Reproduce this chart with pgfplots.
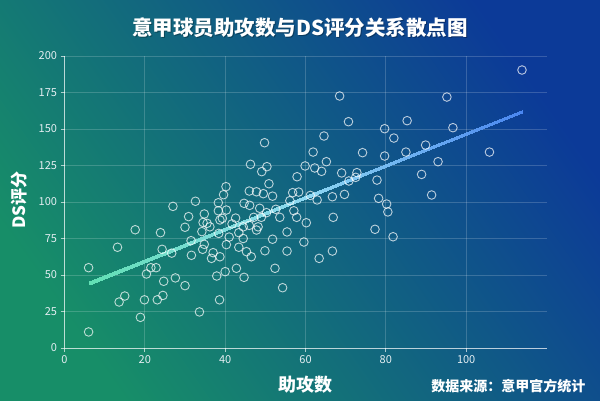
\documentclass[border=0pt]{standalone}
\usepackage{pgfplots}
\pgfplotsset{compat=1.18}
\usepackage{fontspec}
\setmainfont{Noto Sans CJK SC}

\definecolor{bgA}{HTML}{178E68}
\definecolor{bgB}{HTML}{0C3A98}
\definecolor{tickc}{HTML}{E4EEF2}
\definecolor{regA}{HTML}{62E0B4}
\definecolor{regB}{HTML}{8ED8F2}
\definecolor{regC}{HTML}{4A86F0}

\pgfplotstableread{
x y
6 55
6 11
13.2 69
17.6 81
13.6 31.5
15 35.6
18.9 21
19.9 33
20.4 50.7
21.5 55
22.8 55
23.1 33
24.5 36
24.7 45.7
23.9 79
24.3 67.6
26.7 65
27.6 48
27 97
30 42.7
30 82.7
31.5 73.5
31.6 63.5
30.9 90
32.6 100.5
33.6 24.7
34.8 91.8
34.2 79.7
34.5 86
34.8 71
34.4 67.6
36.2 83
36.6 61.4
37 65.3
38.3 99.5
38.3 94
37.9 49.3
38.6 33
38.7 62.5
38.4 78.5
39.6 105
39.3 88.8
40 52.3
40.3 70.8
41 76
42.6 89
42.8 54.6
43.4 69
43.4 79
49.8 140.6
46.3 125.8
50.4 124.2
49.1 120.8
50.9 112.5
40.2 110.5
46 107.5
47.8 107
49.5 105.7
51.8 104
56.8 106.4
58.3 106.8
61.9 134.2
59.9 124.7
62.3 123.3
57.9 117.3
61.2 104.5
56.1 100.9
62.9 101.4
44.7 99.1
46.1 97.7
48.6 95.7
52.6 95
40.3 94.5
50.3 92.7
57.1 94
57.8 89.5
47.1 89.5
49 89.5
53.6 89.5
38.7 87.7
35.5 85.4
44.5 83
48.2 83
60.2 85.8
41.7 85
46 84
47.8 80.8
55.4 79.5
44.5 75
51.8 74.5
59.6 72.6
49.9 66.6
55.4 66.4
45.3 66
46.5 62.5
63.4 61.4
44.7 48.4
52.4 54.6
54.3 41.3
68.5 172.6
70.7 155
85.3 155.7
79.7 150.2
82 143.8
64.6 145.2
74.2 133.8
79.7 131.5
85 134.2
89.9 139
65.2 127.6
64 121
69 119.9
72.8 120.1
72.5 116.9
70.8 114.4
77.8 115
88.9 118.9
93 127.6
66.7 103.6
69.7 105.2
78.2 102.5
91.4 104.8
80.2 98.6
80.5 93.2
66.9 89.5
77.3 81.3
81.8 76.2
66.7 66.4
113.9 190.4
95.2 171.9
96.7 150.9
105.8 134.2
}\players

% fitted line, drawn as a thin band so its colour can run from end to end
\pgfplotstableread{
x y c
6 43.4 0
114 160.9 1
114 163.1 1
6 45.6 0
}\fitline

\begin{document}
\begin{tikzpicture}[x=1pt,y=1pt]
  % background
  \shade[left color=bgA, right color=bgB, shading angle=125] (0,0) rectangle (600,400);
  \path[use as bounding box] (0,0) rectangle (600,400);

  \begin{axis}[
    at={(64.5pt,52pt)}, anchor=south west,
    scale only axis, width=482pt, height=292pt,
    xmin=0, xmax=120, ymin=0, ymax=200,
    xtick={0,20,...,100}, ytick={0,25,...,200},
    axis x line*=bottom, axis y line*=left,
    every outer x axis line/.append style={-},
    every outer y axis line/.append style={-},
    axis line style={-, white, opacity=0.65, line width=1pt},
    grid=major,
    grid style={white, opacity=0.18, line width=0.8pt},
    tick align=outside, major tick length=4pt,
    xtick pos=bottom, ytick pos=left,
    tick style={white, opacity=0.65, line width=0.8pt},
    ticklabel style={font=\fontsize{11}{11}\selectfont, text=tickc},
    /pgf/number format/assume math mode=true,
    colormap={reg}{color=(regA) color=(regB) color=(regC)},
    point meta min=0, point meta max=1,
  ]
    \addplot[only marks, mark=o, mark size=4.3pt,
      mark options={draw=white, draw opacity=0.72, line width=0.9pt}]
      table[x=x, y=y] {\players};
    \addplot[patch, patch type=rectangle, shader=interp, draw=none,
      point meta=explicit] table[x=x, y=y, meta=c] {\fitline};
  \end{axis}

  \node[font=\fontsize{20.5}{22}\selectfont\bfseries, text=black, opacity=0.3] at (301,371) {意甲球员助攻数与DS评分关系散点图};
  \node[font=\fontsize{20.5}{22}\selectfont\bfseries, text=white] at (300,372) {意甲球员助攻数与DS评分关系散点图};
  \node[font=\fontsize{17}{18}\selectfont\bfseries, text=white, rotate=90] at (19,200) {DS评分};
  \node[font=\fontsize{18}{18}\selectfont\bfseries, text=white] at (305,15) {助攻数};
  \node[font=\fontsize{14}{14}\selectfont\bfseries, text=white, anchor=east] at (589,14) {数据来源：意甲官方统计};
\end{tikzpicture}
\end{document}
